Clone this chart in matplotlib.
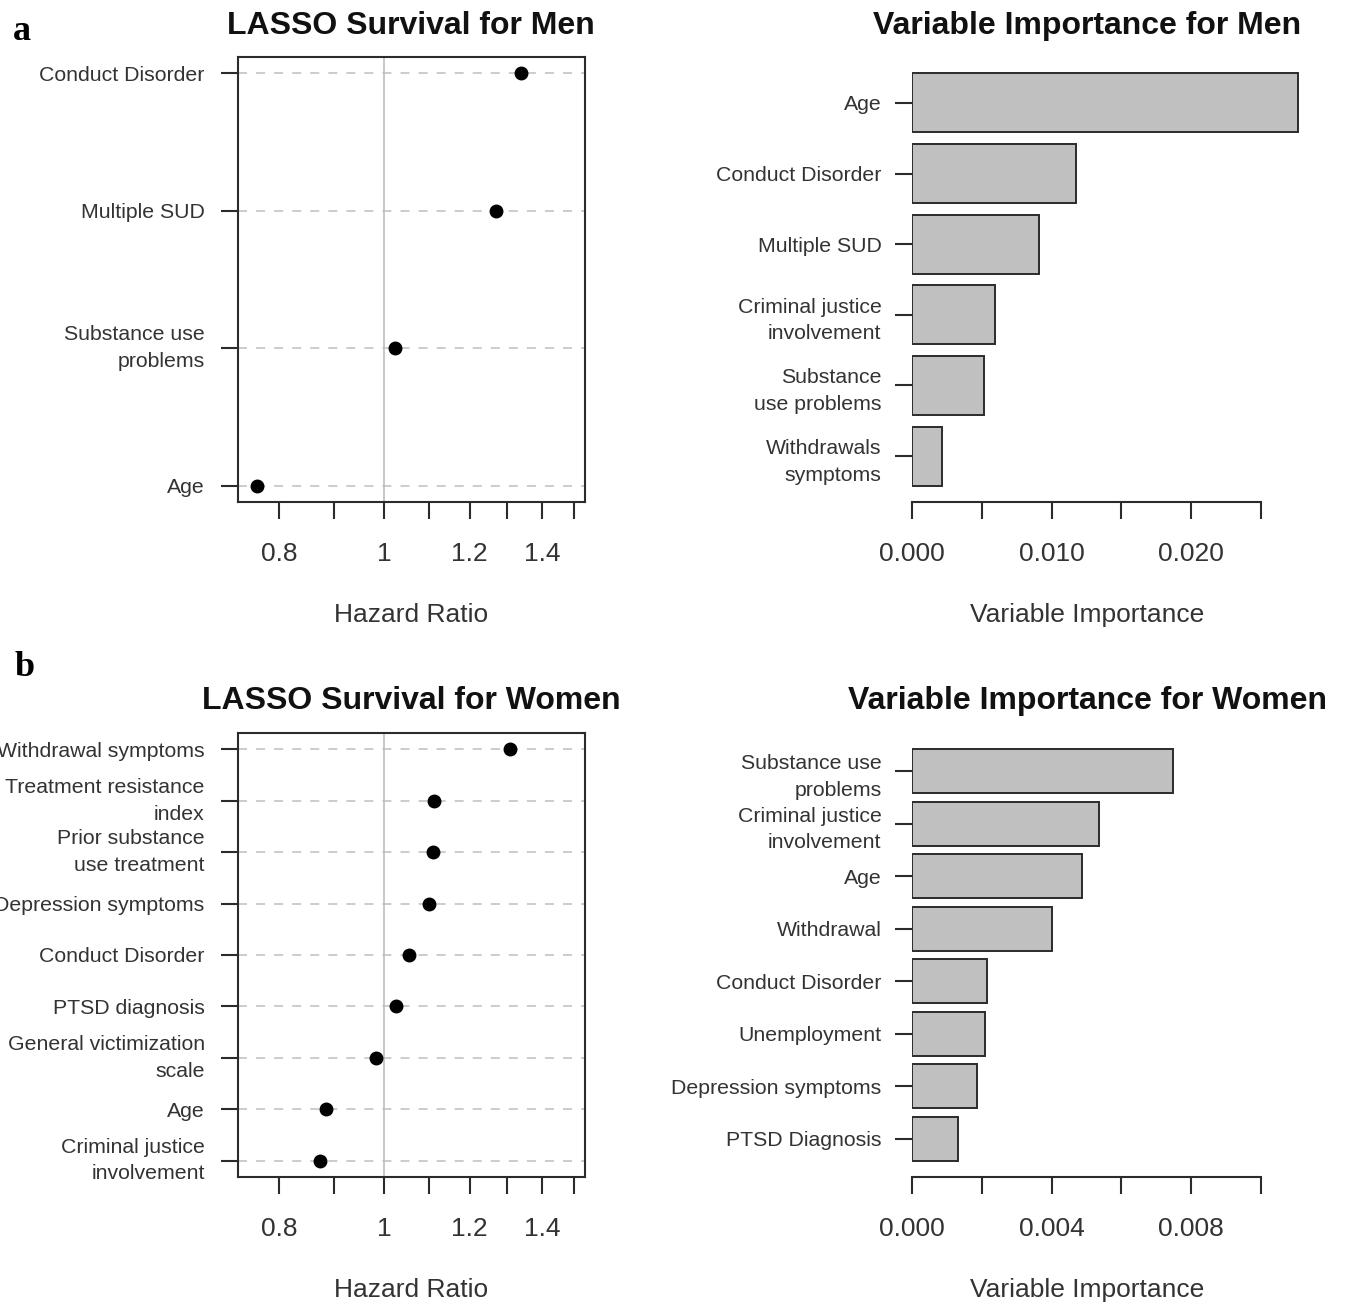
import numpy as np
import matplotlib
matplotlib.use("Agg")
import matplotlib.pyplot as plt

plt.rcParams['font.family'] = ['Liberation Sans', 'DejaVu Sans']

# Data
######################################
men_hr_labels = ["Conduct Disorder", "Multiple SUD", "Substance use\nproblems", "Age"]
men_hr = [1.338, 1.269, 1.024, 0.763]

women_hr_labels = ["Withdrawal symptoms", "Treatment resistance\nindex", "Prior substance\nuse treatment",
                   "Depression symptoms", "Conduct Disorder", "PTSD diagnosis",
                   "General victimization\nscale", "Age", "Criminal justice\ninvolvement"]
women_hr = [1.307, 1.112, 1.110, 1.100, 1.055, 1.026, 0.983, 0.884, 0.873]

men_vi_labels = ["Age", "Conduct Disorder", "Multiple SUD", "Criminal justice\ninvolvement",
                 "Substance\nuse problems", "Withdrawals\nsymptoms"]
men_vi = [0.02767, 0.01176, 0.00910, 0.00595, 0.00516, 0.00215]

women_vi_labels = ["Substance use\nproblems", "Criminal justice\ninvolvement", "Age", "Withdrawal",
                   "Conduct Disorder", "Unemployment", "Depression symptoms", "PTSD Diagnosis"]
women_vi = [0.00748, 0.00536, 0.00487, 0.00401, 0.00215, 0.00209, 0.00186, 0.00132]

hr_ticks = [0.8, 0.9, 1.0, 1.1, 1.2, 1.3, 1.4, 1.5]
hr_ticklabels = ["0.8", "", "1", "", "1.2", "", "1.4", ""]
men_vi_ticks = [0.0, 0.005, 0.010, 0.015, 0.020, 0.025]
men_vi_ticklabels = ["0.000", "", "0.010", "", "0.020", ""]
women_vi_ticks = [0.0, 0.002, 0.004, 0.006, 0.008, 0.010]
women_vi_ticklabels = ["0.000", "", "0.004", "", "0.008", ""]
######################################

W, H = 1345, 1307
fig = plt.figure(figsize=(W / 100, H / 100), dpi=100)

txt_col = '#333333'
line_col = '#2b2b2b'
lab_size = 15.3
num_size = 19
spacing = 1.5


def px_axes(l, t, r, b):
    return fig.add_axes([l / W, 1 - b / H, (r - l) / W, (b - t) / H])


def dot_panel(box, labels, vals):
    ax = px_axes(*box)
    n = len(vals)
    y = np.arange(n, 0, -1)
    pad = 0.04 * (n - 1)
    for yy in y:
        ax.axhline(yy, color='#c8c8c8', lw=1.3, ls=(0, (5, 5)), zorder=1)
    ax.axvline(1.0, color='#bdbdbd', lw=1.2, zorder=1)
    ax.plot(vals, y, 'o', color='black', ms=9, zorder=3)
    ax.set_xscale('log')
    ax.set_xlim(0.733, 1.534)
    ax.set_ylim(1 - pad, n + pad)
    ax.minorticks_off()
    ax.set_xticks(hr_ticks)
    ax.set_xticklabels(hr_ticklabels)
    ax.set_yticks(y)
    ax.set_yticklabels(labels, linespacing=spacing)
    for s in ax.spines.values():
        s.set_linewidth(1.5)
        s.set_color(line_col)
    ax.tick_params(axis='x', length=12, width=1.5, color=line_col, pad=17,
                   labelsize=num_size, labelcolor=txt_col)
    ax.tick_params(axis='y', length=12, width=1.5, color=line_col, pad=12,
                   labelsize=lab_size, labelcolor=txt_col)
    for t in ax.get_yticklabels():
        t.set_verticalalignment('center_baseline' if '\n' not in t.get_text() else 'center')
    return ax


def bar_panel(box, labels, vals, xmax, ticks, ticklabels):
    ax = px_axes(*box)
    n = len(vals)
    centers = 0.7 + 1.2 * np.arange(n)[::-1]
    ax.barh(centers, vals, height=1.0, color='#c0c0c0', edgecolor=line_col, linewidth=1.4, zorder=2)
    pad = 0.04 * (1.2 * n - 0.2)
    ax.set_ylim(0.2 - pad, 1.2 * n + pad)
    ax.set_xlim(0, xmax)
    for k in ['top', 'right', 'left']:
        ax.spines[k].set_visible(False)
    ax.spines['bottom'].set_bounds(ticks[0], ticks[-1])
    ax.spines['bottom'].set_linewidth(1.5)
    ax.spines['bottom'].set_color(line_col)
    ax.set_xticks(ticks)
    ax.set_xticklabels(ticklabels)
    ax.set_yticks(centers)
    ax.set_yticklabels(labels, linespacing=spacing)
    ax.tick_params(axis='x', length=12, width=1.5, color=line_col, pad=17,
                   labelsize=num_size, labelcolor=txt_col)
    ax.tick_params(axis='y', length=12, width=1.5, color=line_col, pad=10,
                   labelsize=lab_size, labelcolor=txt_col)
    return ax


ax1 = dot_panel((238, 57, 585, 502), men_hr_labels, men_hr)
ax2 = bar_panel((912, 57, 1314, 502), men_vi_labels, men_vi, 402 / 13950, men_vi_ticks, men_vi_ticklabels)
ax3 = dot_panel((238, 733, 585, 1177), women_hr_labels, women_hr)
ax4 = bar_panel((912, 733, 1314, 1177), women_vi_labels, women_vi, 402 / 34875, women_vi_ticks, women_vi_ticklabels)

# axis titles
for yy in (615, 1290):
    fig.text(411 / W, 1 - yy / H, "Hazard Ratio", ha='center', va='center', fontsize=num_size, color=txt_col)
    fig.text(1087 / W, 1 - yy / H, "Variable Importance", ha='center', va='center', fontsize=num_size, color=txt_col)

# titles
tkw = dict(ha='center', va='center', fontsize=23, fontweight='bold', color='#111111')
fig.text(411 / W, 1 - 26 / H, "LASSO Survival for Men", **tkw)
fig.text(1087 / W, 1 - 26 / H, "Variable Importance for Men", **tkw)
fig.text(411 / W, 1 - 701 / H, "LASSO Survival for Women", **tkw)
fig.text(1087 / W, 1 - 701 / H, "Variable Importance for Women", **tkw)

# panel letters
fig.text(22 / W, 1 - 32 / H, "a", ha='center', va='center', fontsize=26, fontweight='bold', family='Liberation Serif')
fig.text(25 / W, 1 - 668 / H, "b", ha='center', va='center', fontsize=26, fontweight='bold', family='Liberation Serif')

fig.savefig("out.png", dpi=100)
